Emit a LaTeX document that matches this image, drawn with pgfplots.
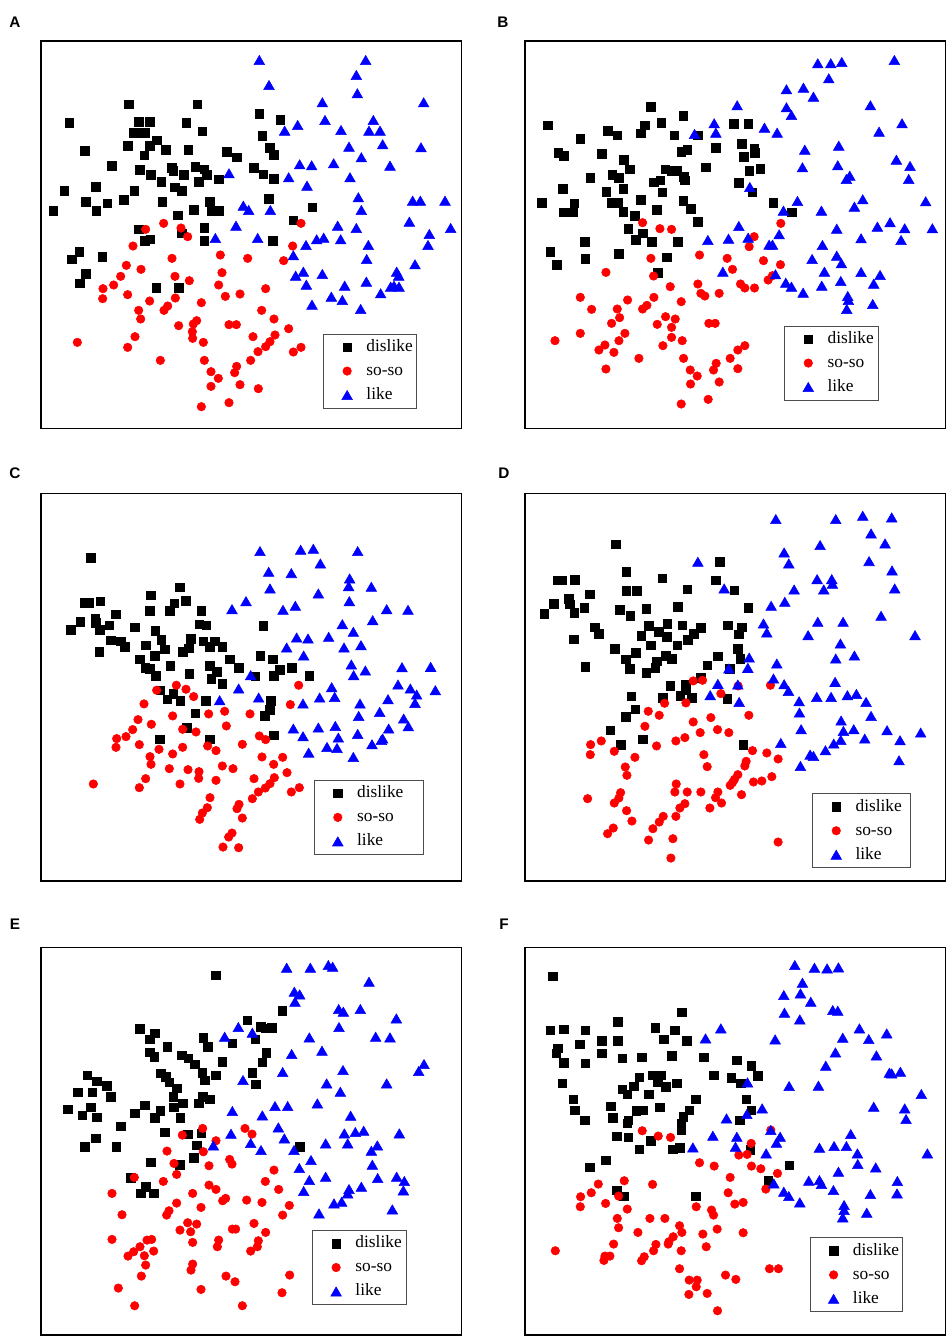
\documentclass[border=0pt]{standalone}
\usepackage{pgfplots}
\pgfplotsset{compat=1.18}
\usepackage{fontspec}
\setmainfont{Liberation Serif}
\newfontfamily\labfont{Liberation Sans}
\pgfplotsset{
  panel/.style={scale only axis, width=315.5pt, height=290.5pt, anchor=north west,
    y dir=reverse, xtick=\empty, ytick=\empty, axis line style={line width=0.9pt},
    clip=false, legend cell align=left,
    legend entries={dislike,so-so,like},
    legend image code/.code={\path[draw=none,fill=none] (0pt,-3pt) rectangle (28pt,3pt); \draw[line width=0.4pt,##1] plot coordinates {(17.5pt,0pt)};},
    legend style={anchor=north west, draw=black!70, line width=0.7pt, inner xsep=0pt, inner ysep=3.5pt,
      row sep=5.6pt, column sep=4pt, font=\fontsize{13}{15}\selectfont,
      nodes={inner sep=0pt, text height=9.4pt, text depth=3pt}}},
  lw/.style={legend style={nodes={text width=#1}}},
  dis/.style={only marks, mark=square*, mark size=3.2pt, black},
  so/.style={only marks, mark=*, mark size=3.2pt, red},
  lk/.style={only marks, mark=triangle*, mark size=4.6pt, blue, every mark/.append style={yshift=-1.15pt}},
}
\begin{document}
\begin{tikzpicture}
\useasboundingbox (0,0) rectangle (712.5pt,-1004.25pt);
\node[font=\labfont\bfseries\fontsize{11.5}{12}\selectfont] at (11.25pt,-17pt) {A};
\node[font=\labfont\bfseries\fontsize{11.5}{12}\selectfont] at (377.25pt,-16.5pt) {B};
\node[font=\labfont\bfseries\fontsize{11.5}{12}\selectfont] at (11.25pt,-355pt) {C};
\node[font=\labfont\bfseries\fontsize{11.5}{12}\selectfont] at (378pt,-354.75pt) {D};
\node[font=\labfont\bfseries\fontsize{11.5}{12}\selectfont] at (11.25pt,-693.25pt) {E};
\node[font=\labfont\bfseries\fontsize{11.5}{12}\selectfont] at (378pt,-693pt) {F};

% ---------------- A ----------------
\begin{axis}[panel, at={(30.75pt,-30.75pt)}, xmin=123, xmax=1385, ymin=123, ymax=1285,
  lw=37.5pt, legend style={at={(0.6712,0.2444)}}]
\addplot[dis] coordinates {(387,313) (592,313) (208,368) (417,365) (449,365) (559,368) (607,394) (778,341) (841,360) (400,399) (418,399) (436,399) (384,437) (449,437) (470,421) (497,449) (565,449) (254,452) (433,466) (680,455) (710,472) (787,408) (810,444) (822,464) (335,497) (420,510) (452,525) (516,503) (520,512) (551,525) (586,500) (613,508) (620,525) (597,545) (656,538) (762,503) (790,523) (822,537) (484,545) (525,562) (545,573) (193,573) (288,561) (403,573) (258,606) (289,633) (322,610) (371,600) (160,633) (487,606) (629,606) (582,629) (635,633) (656,633) (534,646) (807,597) (937,622) (880,661) (417,688) (545,700) (613,684) (613,723) (435,723) (451,718) (818,723) (238,756) (216,778) (307,771) (258,822) (240,850) (469,864) (537,864)};
\addplot[so] coordinates {(491,670) (437,688) (543,684) (563,710) (399,738) (903,670) (878,738) (851,782) (516,775) (661,765) (743,775) (379,796) (423,808) (362,829) (525,829) (568,842) (666,818) (656,855) (341,855) (309,866) (308,896) (383,884) (797,866) (720,882) (676,889) (604,908) (526,894) (449,903) (503,918) (492,931) (416,931) (422,957) (785,931) (822,957) (536,977) (580,972) (590,962) (687,974) (709,974) (577,995) (578,1015) (610,1027) (866,986) (825,1005) (759,1010) (810,1025) (797,1040) (774,1055) (903,1042) (880,1056) (232,1027) (405,1010) (383,1042) (481,1081) (613,1081) (752,1081) (710,1099) (704,1118) (633,1115) (655,1135) (633,1159) (720,1154) (775,1166) (604,1220) (687,1208)};
\addplot[lk] coordinates {(778,180) (1097,180) (1069,225) (807,255) (1072,280) (967,307) (1271,307) (975,360) (893,375) (854,392) (1023,390) (1120,360) (1107,392) (1140,392) (1148,433) (1047,440) (1263,442) (1084,472) (899,493) (935,496) (1001,490) (1170,497) (687,520) (866,532) (921,557) (1050,532) (1075,592) (1084,630) (730,617) (746,630) (811,630) (1238,602) (1261,602) (1335,602) (708,677) (1013,677) (1069,684) (1228,665) (646,714) (773,714) (1022,718) (918,735) (950,718) (971,713) (1105,735) (1288,702) (1352,684) (1284,735) (880,766) (1100,777) (1245,793) (887,827) (910,815) (967,822) (1190,815) (1196,827) (919,854) (1034,857) (1099,845) (1182,857) (1172,860) (1197,860) (994,890) (1027,900) (1142,880) (936,914) (1082,927)};
\end{axis}

% ---------------- B ----------------
\begin{axis}[panel, at={(393.75pt,-30.75pt)}, xmin=150, xmax=1413, ymin=123, ymax=1285,
  lw=38.5pt, legend style={at={(0.6168,0.2651)}}]
\addplot[dis] coordinates {(527,320) (625,348) (218,376) (399,392) (427,406) (497,400) (510,376) (559,368) (598,406) (316,416) (668,406) (776,372) (821,372) (250,458) (267,468) (381,461) (447,480) (464,508) (619,455) (637,450) (723,444) (801,431) (838,445) (840,458) (806,470) (693,502) (346,533) (412,525) (432,533) (571,508) (589,513) (606,513) (627,530) (629,541) (824,513) (857,507) (264,566) (394,576) (445,566) (537,547) (556,541) (562,577) (791,548) (833,577) (200,609) (298,610) (266,637) (295,637) (411,608) (428,608) (445,636) (497,600) (545,629) (625,602) (648,627) (480,648) (668,665) (895,608) (951,637) (460,686) (503,700) (483,720) (530,725) (609,725) (330,725) (226,756) (246,795) (331,777) (432,761) (575,772) (549,818)};
\addplot[so] coordinates {(503,668) (555,686) (590,688) (918,670) (838,710) (823,740) (674,765) (528,775) (757,775) (866,782) (917,794) (773,808) (393,817) (536,828) (880,840) (893,827) (669,852) (797,852) (810,864) (839,864) (586,860) (678,880) (690,888) (733,880) (316,892) (458,900) (537,892) (619,905) (350,928) (427,927) (503,927) (516,916) (572,950) (601,957) (434,953) (410,970) (547,973) (590,982) (702,970) (721,970) (450,1000) (316,1000) (590,1012) (240,1022) (432,1022) (622,1022) (564,1037) (390,1035) (372,1050) (417,1057) (810,1037) (789,1050) (766,1075) (492,1075) (626,1075) (724,1090) (716,1110) (789,1106) (393,1107) (646,1110) (667,1128) (733,1146) (647,1152) (700,1198) (619,1212)};
\addplot[lk] coordinates {(1029,190) (1068,190) (1101,186) (1259,180) (1062,235) (935,268) (986,263) (1016,290) (787,316) (935,322) (950,345) (1187,316) (718,370) (723,398) (659,402) (869,383) (907,398) (1282,370) (1213,395) (990,449) (1092,437) (983,502) (1089,496) (1125,527) (1115,537) (1265,479) (1306,498) (1302,537) (825,561) (968,603) (926,632) (1040,632) (1139,620) (1164,598) (1353,604) (792,678) (1086,686) (1208,680) (1246,667) (1290,685) (1373,685) (699,720) (761,716) (820,713) (913,703) (883,734) (893,734) (1159,715) (1279,720) (1043,735) (1086,767) (1100,790) (1012,777) (744,815) (902,823) (933,848) (950,860) (985,878) (1049,815) (1041,857) (1098,843) (1159,816) (1216,825) (1197,851) (1119,888) (1121,900) (1116,927) (1194,912)};
\end{axis}

% ---------------- C ----------------
\begin{axis}[panel, at={(30.75pt,-370.3pt)}, xmin=123, xmax=1385, ymin=146, ymax=1307,
  lw=50pt, legend style={at={(0.649,0.261)}}]
\addplot[dis] coordinates {(273,338) (255,472) (268,472) (301,468) (347,507) (241,530) (286,520) (287,533) (300,553) (328,540) (213,553) (405,546) (333,585) (362,588) (374,604) (298,620) (452,450) (449,497) (540,427) (557,466) (523,474) (510,497) (604,497) (598,537) (619,540) (466,557) (484,583) (437,600) (495,612) (465,631) (419,642) (436,668) (449,670) (467,692) (511,661) (572,580) (566,609) (548,620) (610,588) (644,588) (630,604) (667,604) (689,642) (630,661) (651,680) (634,700) (716,668) (568,686) (667,716) (790,542) (781,631) (818,642) (766,693) (822,692) (840,673) (875,668) (928,692) (481,735) (502,762) (520,746) (541,767) (617,767) (586,804) (561,848) (813,767) (810,793) (795,812) (822,870) (480,882) (630,882)};
\addplot[so] coordinates {(470,735) (529,720) (558,732) (581,754) (432,776) (896,720) (871,778) (518,812) (626,806) (674,798) (750,806) (679,842) (414,823) (454,837) (398,853) (548,852) (588,860) (378,874) (350,880) (348,906) (418,898) (477,912) (548,906) (518,926) (623,902) (648,916) (727,897) (778,872) (797,883) (450,934) (453,957) (508,970) (564,973) (597,979) (596,999) (667,962) (699,970) (786,935) (848,936) (821,957) (861,982) (437,1000) (540,1016) (418,1027) (648,1005) (762,1000) (823,997) (810,1015) (796,1028) (775,1040) (898,1027) (874,1040) (280,1016) (630,1057) (757,1060) (717,1077) (711,1090) (727,1118) (622,1087) (607,1103) (599,1122) (696,1163) (686,1175) (669,1205) (716,1207)};
\addplot[lk] coordinates {(780,318) (902,314) (940,311) (1073,318) (961,355) (806,380) (874,384) (1049,400) (1046,423) (810,430) (955,445) (1114,425) (738,468) (696,492) (849,494) (886,482) (1048,468) (1160,492) (1224,494) (1118,525) (1027,537) (1060,560) (890,577) (924,580) (986,575) (860,607) (1032,607) (1083,600) (911,631) (1054,658) (1061,690) (1096,676) (1206,666) (1292,665) (752,690) (716,730) (659,765) (776,757) (995,726) (959,757) (1004,755) (909,775) (1194,718) (1231,730) (1250,748) (1306,735) (1164,762) (1245,773) (1080,775) (1139,800) (1076,812) (1211,820) (1225,843) (880,850) (955,847) (1006,842) (909,873) (1015,877) (1073,866) (1166,850) (1148,880) (1144,884) (926,922) (981,905) (1011,908) (1116,897) (1060,935)};
\end{axis}

% ---------------- D ----------------
\begin{axis}[panel, at={(393.75pt,-370.3pt)}, xmin=150, xmax=1413, ymin=146, ymax=1307,
  lw=41.5pt, legend style={at={(0.6833,0.2265)}}]
\addplot[dis] coordinates {(422,298) (734,350) (454,380) (562,400) (723,406) (778,436) (249,405) (262,405) (299,404) (345,447) (236,475) (282,460) (284,477) (328,487) (298,503) (208,505) (454,437) (486,437) (637,433) (435,494) (466,512) (514,490) (609,484) (820,487) (360,546) (372,566) (296,582) (522,541) (577,535) (551,560) (575,575) (622,540) (656,565) (678,547) (638,583) (607,600) (758,540) (801,546) (791,567) (499,572) (527,600) (420,610) (483,623) (452,642) (465,670) (546,648) (541,667) (514,682) (573,632) (591,641) (729,633) (697,660) (788,610) (796,640) (331,665) (764,670) (586,722) (632,718) (633,735) (616,752) (651,757) (564,757) (757,760) (677,697) (469,753) (481,792) (452,815) (406,855) (503,882) (437,898) (805,898)};
\addplot[so] coordinates {(655,707) (683,705) (738,745) (790,722) (887,720) (569,774) (633,773) (520,798) (553,810) (822,810) (708,817) (655,830) (510,843) (728,853) (676,862) (762,862) (347,898) (379,887) (603,887) (630,877) (545,902) (418,918) (480,936) (687,928) (833,916) (876,923) (910,941) (697,964) (810,962) (814,948) (451,965) (456,990) (789,988) (779,1002) (773,1012) (766,1020) (836,1010) (861,1007) (891,994) (346,928) (604,1016) (600,1040) (637,1040) (678,1040) (729,1040) (722,1057) (740,1073) (800,1048) (437,1042) (432,1058) (418,1073) (338,1060) (455,1096) (630,1075) (615,1088) (705,1088) (603,1113) (565,1113) (553,1130) (471,1127) (534,1150) (415,1148) (398,1165) (521,1184) (594,1180) (588,1238) (910,1190)};
\addplot[lk] coordinates {(903,222) (1083,222) (1164,212) (1251,217) (1189,265) (1231,295) (1036,300) (928,322) (942,355) (669,350) (1183,348) (1252,376) (1027,402) (1071,402) (1073,416) (1047,433) (958,433) (1260,430) (748,430) (889,482) (930,470) (1219,512) (866,535) (876,562) (1029,530) (1105,530) (1000,570) (1321,570) (1097,595) (1083,640) (1139,631) (823,637) (819,668) (906,655) (762,670) (729,716) (789,718) (896,700) (928,717) (941,737) (706,750) (1081,710) (793,770) (1026,755) (1069,755) (1118,750) (1145,746) (973,768) (974,802) (1174,770) (1189,812) (1099,826) (1137,852) (1106,857) (1098,884) (1077,895) (1052,915) (979,852) (1237,855) (1170,880) (1276,885) (1338,862) (918,893) (1006,928) (1016,932) (977,962) (1273,945)};
\end{axis}

% ---------------- E ----------------
\begin{axis}[panel, at={(30.75pt,-710.8pt)}, xmin=123, xmax=1385, ymin=173, ymax=1335,
  lw=38.25pt, legend style={at={(0.645,0.271)}}]
\addplot[dis] coordinates {(648,256) (847,362) (742,390) (783,410) (797,415) (815,413) (419,416) (465,430) (450,448) (610,443) (624,470) (697,459) (766,447) (502,470) (450,487) (463,500) (545,496) (565,505) (585,522) (667,515) (799,488) (787,517) (757,548) (768,582) (262,556) (290,574) (320,587) (333,620) (233,607) (277,607) (203,657) (272,652) (247,676) (291,681) (483,550) (497,560) (508,577) (530,594) (520,620) (607,548) (614,570) (648,556) (609,620) (630,628) (596,640) (435,645) (404,670) (481,662) (465,683) (522,652) (548,640) (541,683) (362,708) (495,727) (563,733) (604,730) (590,766) (582,803) (288,745) (255,770) (349,770) (452,816) (540,824) (393,863) (437,890) (422,910) (462,910) (900,770)};
\addplot[so] coordinates {(608,715) (735,715) (756,732) (547,735) (648,752) (501,783) (610,785) (689,808) (696,822) (522,820) (627,827) (530,853) (822,840) (403,862) (490,874) (796,874) (627,885) (648,898) (836,898) (336,910) (578,910) (668,932) (677,925) (740,930) (786,937) (530,939) (603,952) (868,946) (507,962) (500,975) (366,974) (848,975) (563,998) (590,1002) (572,1025) (540,1020) (697,1017) (707,1017) (762,1000) (797,1027) (336,1048) (441,1050) (455,1048) (578,1057) (656,1050) (652,1070) (775,1052) (772,1070) (752,1083) (420,1070) (401,1085) (384,1098) (433,1097) (461,1083) (437,1125) (578,1122) (573,1140) (424,1158) (678,1158) (705,1175) (869,1155) (355,1194) (603,1198) (846,1208) (404,1247) (727,1247)};
\addplot[lk] coordinates {(860,233) (931,233) (985,225) (998,230) (1107,275) (883,305) (899,313) (885,335) (1016,357) (1030,365) (1081,357) (1189,385) (715,411) (757,428) (674,440) (928,442) (1017,411) (1127,440) (1170,442) (966,482) (875,492) (1272,522) (1256,543) (848,546) (729,570) (1029,540) (980,580) (1160,580) (1021,605) (952,640) (825,648) (863,648) (697,663) (787,676) (1052,677) (835,712) (693,731) (853,745) (752,759) (783,780) (640,766) (882,780) (1033,730) (1066,726) (1091,722) (1198,730) (977,760) (1043,760) (1132,766) (1114,782) (933,810) (898,834) (1117,824) (928,870) (977,860) (1133,864) (1190,860) (1213,873) (1210,901) (911,903) (1047,897) (1084,890) (1043,910) (1025,935) (1002,940) (1177,958) (957,970)};
\end{axis}

% ---------------- F ----------------
\begin{axis}[panel, at={(393.75pt,-710.8pt)}, xmin=150, xmax=1413, ymin=173, ymax=1335,
  lw=37pt, legend style={at={(0.677,0.252)}}]
\addplot[dis] coordinates {(234,258) (621,366) (429,395) (226,420) (266,418) (331,420) (315,462) (380,452) (429,452) (541,413) (600,420) (567,447) (636,452) (249,475) (244,490) (380,490) (266,518) (331,520) (442,505) (501,502) (590,497) (687,502) (785,510) (830,527) (849,557) (717,555) (769,563) (797,580) (262,580) (493,562) (534,555) (557,555) (549,577) (573,590) (477,588) (442,598) (457,612) (522,613) (606,580) (295,628) (299,660) (330,690) (408,648) (413,683) (484,662) (505,660) (554,652) (663,628) (643,660) (625,680) (619,700) (619,720) (460,690) (457,700) (815,627) (830,660) (795,690) (426,738) (460,742) (527,752) (493,777) (594,778) (614,773) (826,779) (393,810) (344,832) (944,825) (880,872) (426,900) (446,918) (663,918)};
\addplot[so] coordinates {(502,722) (550,738) (587,742) (888,720) (829,760) (792,795) (817,793) (674,818) (718,828) (830,828) (858,836) (908,850) (766,862) (448,872) (370,882) (533,883) (349,908) (317,920) (760,908) (873,897) (431,918) (392,940) (316,950) (664,950) (780,942) (805,937) (457,957) (710,960) (716,975) (427,985) (525,985) (570,985) (431,1013) (614,1007) (621,1027) (727,1017) (489,1027) (684,1032) (805,1028) (595,1040) (582,1055) (580,1062) (416,1062) (543,1063) (536,1082) (694,1070) (619,1082) (241,1082) (390,1098) (405,1098) (387,1111) (508,1100) (500,1112) (614,1136) (884,1136) (911,1136) (752,1155) (783,1168) (643,1170) (667,1170) (664,1190) (642,1213) (697,1210) (728,1262)};
\addplot[lk] coordinates {(960,225) (1019,233) (1057,235) (1091,232) (983,278) (977,310) (927,315) (1008,335) (1074,360) (1089,362) (929,368) (975,388) (738,415) (692,445) (901,448) (1154,415) (1236,430) (1182,447) (1104,443) (1082,487) (1205,496) (1053,527) (1244,548) (1251,550) (1277,545) (818,577) (943,588) (1031,587) (1340,612) (1197,650) (1290,655) (1294,687) (862,655) (816,672) (755,685) (888,720) (916,740) (905,758) (714,737) (786,740) (782,770) (654,772) (874,790) (1128,732) (1034,773) (1078,768) (1115,768) (1148,790) (1149,822) (1203,832) (1358,790) (1091,845) (1002,872) (1034,870) (1040,882) (897,880) (927,905) (942,918) (975,937) (1076,900) (1187,912) (1268,873) (1267,910) (1108,945) (1108,960) (1104,982) (1176,968)};
\end{axis}
\end{tikzpicture}
\end{document}
